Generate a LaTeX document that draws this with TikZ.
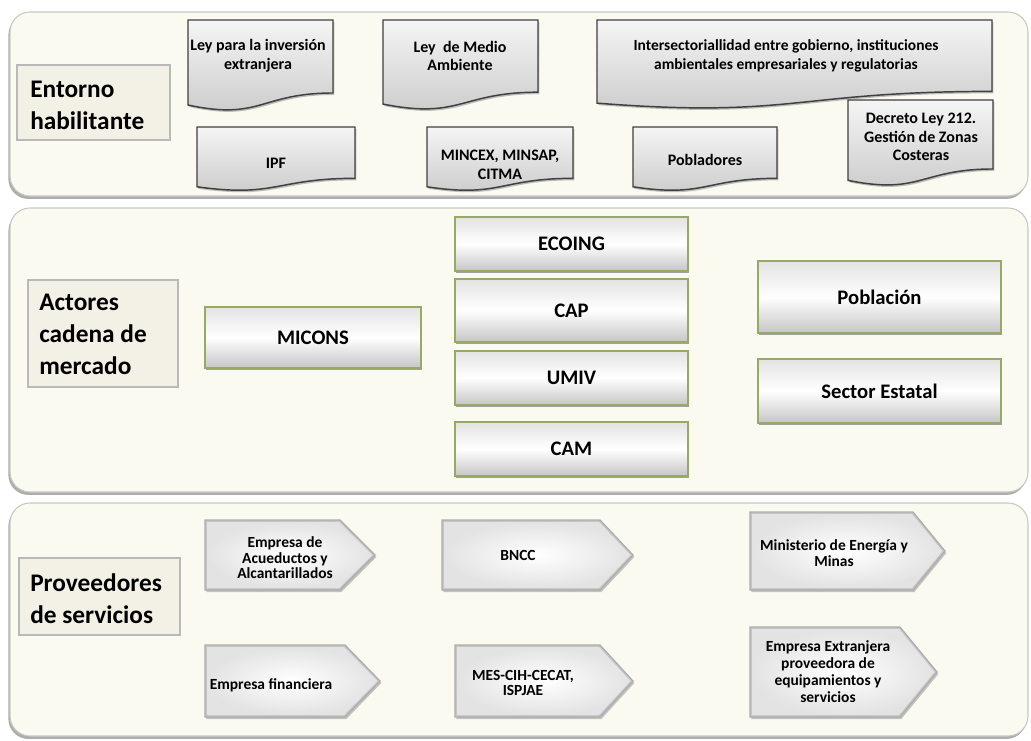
\documentclass[tikz,border=0pt]{standalone}
\usepackage{fontspec}
\setmainfont{Carlito}
\usetikzlibrary{shadows}
\definecolor{panelfill}{RGB}{251,250,241}
\definecolor{panelline}{RGB}{200,200,195}
\definecolor{labfill}{RGB}{243,241,229}
\definecolor{olivebd}{RGB}{150,170,100}
\newcommand\docshape[4]{% x0, y0, x1, h
  \path[docsty] (#1,#2) -- (#3,#2) -- (#3,#2+0.802*#4)
    .. controls ({(#1+#3)/2},#2+0.802*#4) and ({(#1+#3)/2},#2+1.1075*#4) ..
    (#1,#2+0.934*#4) -- cycle;}
\newcommand\pentshape[5]{% x0, y0, xtip, y1, depth
  \path[pentsty] (#1,#2) -- (#3-#5,#2) -- (#3,{(#2+#4)/2}) -- (#3-#5,#4) -- (#1,#4) -- cycle;
  \path[pentbevel] (#1+2,#2+2) -- (#3-#5-1,#2+2) -- (#3-2.5,{(#2+#4)/2}) -- (#3-#5-1,#4-2) -- (#1+2,#4-2) -- cycle;}
\begin{document}
\begin{tikzpicture}[x=0.75pt,y=-0.75pt,
  panel/.style={fill=panelfill, draw=panelline, line width=0.8pt, rounded corners=15pt,
    drop shadow={shadow xshift=-1.2pt, shadow yshift=-2.2pt, fill=gray!80, opacity=0.8}},
  labbox/.style={fill=labfill, draw=gray!55, line width=1.6pt, inner sep=0pt,
    drop shadow={shadow xshift=0.8pt, shadow yshift=-0.8pt, fill=gray!60, opacity=0.6}},
  labtext/.style={anchor=west, align=left, inner sep=0pt, font=\fontsize{19}{24}\selectfont\bfseries},
  mbox/.style={draw=olivebd, line width=0.9pt, top color=gray!22, bottom color=gray!45, middle color=white,
    inner sep=0pt, font=\fontsize{15.5}{18}\selectfont\bfseries,
    drop shadow={shadow xshift=0.8pt, shadow yshift=-1.8pt, fill=black!60, opacity=0.6}},
  docsty/.style={draw=black!75, line width=1.1pt, top color=gray!8, bottom color=gray!42,
    drop shadow={shadow xshift=1pt, shadow yshift=-1.5pt, fill=black!50, opacity=0.5}},
  doctext/.style={align=center, inner sep=0pt, font=\fontsize{12}{14}\selectfont\bfseries},
  pentsty/.style={draw=gray!65, line width=0.9pt, fill=gray!45,
    drop shadow={shadow xshift=1pt, shadow yshift=-1.5pt, fill=black!45, opacity=0.5}},
  pentbevel/.style={inner color=white, outer color=gray!22},
  penttext/.style={align=center, inner sep=0pt, font=\fontsize{11.6}{11.6}\selectfont\bfseries}
]
\useasboundingbox[fill=white] (0,0) rectangle (1031,740);

% panels
\path[panel] (10,12) rectangle (1028,196);
\path[panel] (10,208) rectangle (1028,492);
\path[panel] (10,503) rectangle (1028,736);

% ---- Entorno habilitante ----
\node[labbox, minimum width=153*0.75pt, minimum height=75*0.75pt] (entornobox) at (93.5,102.5) {};
\node[labtext] (entorno) at (30,105) {Entorno\\habilitante};

\docshape{188}{20}{333}{91}
\node[doctext] (leyinv) at (258,56) {Ley para la inversión\\extranjera};
\docshape{383}{20}{538}{90}
\node[doctext] (leymed) at (460,56) {Ley\ \ de Medio\\Ambiente};
\docshape{597}{20}{992}{89}
\node[doctext, font=\fontsize{11.6}{14}\selectfont\bfseries] (inter) at (786,56) {Intersectoriallidad entre gobierno, instituciones\\ambientales empresariales y regulatorias};
\docshape{197}{127}{355}{64}
\node[doctext] (ipf) at (276,163) {IPF};
\docshape{427}{127}{573}{64}
\node[doctext] (mincex) at (500,165) {MINCEX, MINSAP,\\CITMA};
\docshape{633}{127}{777}{64}
\node[doctext] (pobl) at (705,160) {Pobladores};
\docshape{848}{100}{993}{86}
\node[doctext] (decreto) at (921,137) {Decreto Ley 212.\\Gestión de Zonas\\Costeras};

% ---- Actores cadena de mercado ----
\node[labbox, minimum width=150*0.75pt, minimum height=107*0.75pt] (actoresbox) at (103,333.5) {};
\node[labtext] (actores) at (39,334) {Actores\\cadena de\\mercado};
\node[mbox, minimum width=216*0.75pt, minimum height=61*0.75pt] (micons) at (313,337.5) {MICONS};
\node[mbox, minimum width=233*0.75pt, minimum height=54*0.75pt] (ecoing) at (571.5,244) {ECOING};
\node[mbox, minimum width=233*0.75pt, minimum height=63*0.75pt] (cap) at (571.5,310.5) {CAP};
\node[mbox, minimum width=233*0.75pt, minimum height=54*0.75pt] (umiv) at (571.5,378) {UMIV};
\node[mbox, minimum width=233*0.75pt, minimum height=54*0.75pt] (cam) at (571.5,449) {CAM};
\node[mbox, minimum width=243*0.75pt, minimum height=72*0.75pt] (poblacion) at (879.5,297) {Población};
\node[mbox, minimum width=243*0.75pt, minimum height=64*0.75pt] (sector) at (879.5,391) {Sector Estatal};

% ---- Proveedores de servicios ----
\node[labbox, minimum width=161*0.75pt, minimum height=77*0.75pt] (proveedbox) at (99.5,596.5) {};
\node[labtext] (proveed) at (30,599) {Proveedores\\de servicios};

\pentshape{205}{520}{375}{590}{35}
\node[penttext] (acued) at (285,558) {Empresa de\\Acueductos y\\Alcantarillados};
\pentshape{442}{520}{633}{590}{33}
\node[penttext] (bncc) at (518,555) {BNCC};
\pentshape{750}{512}{945}{590}{32}
\node[penttext] (minem) at (834,553) {Ministerio de Energía y\\Minas};
\pentshape{205}{645}{380}{717}{35}
\node[penttext] (finan) at (271,685) {Empresa financiera};
\pentshape{455}{645}{633}{717}{33}
\node[penttext] (mes) at (523,683) {MES-CIH-CECAT,\\ISPJAE};
\pentshape{750}{627}{937}{717}{37}
\node[penttext, font=\fontsize{11.6}{12.8}\selectfont\bfseries] (extr) at (828,672) {Empresa Extranjera\\proveedora de\\equipamientos y\\servicios};
\end{tikzpicture}
\end{document}
